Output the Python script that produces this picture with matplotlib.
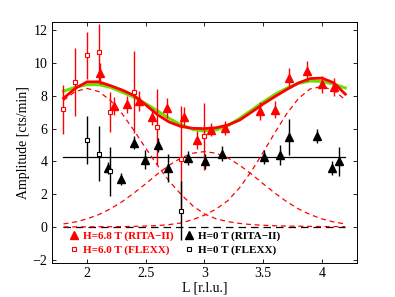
import matplotlib
matplotlib.use("Agg")
import matplotlib.pyplot as plt
from matplotlib.lines import Line2D

# ---------------- data ----------------
L_grid = [1.8, 1.9, 2.0, 2.1, 2.2, 2.3, 2.4, 2.5, 2.6, 2.7, 2.8, 2.9, 3.0,
          3.1, 3.2, 3.3, 3.4, 3.5, 3.6, 3.7, 3.8, 3.9, 4.0, 4.1, 4.2]
fit_red = [7.85, 8.45, 8.85, 8.85, 8.62, 8.35, 8.02, 7.45, 6.85, 6.40, 6.13, 6.02, 6.00,
           6.05, 6.22, 6.52, 7.00, 7.50, 7.95, 8.38, 8.78, 9.05, 9.08, 8.80, 8.10]
fit_green = [8.28, 8.52, 8.68, 8.68, 8.52, 8.22, 7.92, 7.52, 7.08, 6.62, 6.24, 5.96, 5.85,
             5.92, 6.18, 6.62, 7.12, 7.62, 8.08, 8.46, 8.76, 8.90, 8.88, 8.72, 8.48]
peak_L2 = [7.72, 8.26, 8.45, 8.26, 7.72, 6.90, 5.89, 4.81, 3.76, 2.80, 2.00, 1.30, 0.80,
           0.50, 0.33, 0.22, 0.15, 0.11, 0.08, 0.06, 0.05, 0.04, 0.03, 0.03, 0.02]
peak_L3 = [0.19, 0.31, 0.50, 0.76, 1.11, 1.55, 2.07, 2.64, 3.23, 3.77, 4.21, 4.50, 4.60,
           4.50, 4.21, 3.77, 3.23, 2.64, 2.07, 1.55, 1.11, 0.76, 0.50, 0.31, 0.19]
peak_L4 = [0.01, 0.01, 0.01, 0.02, 0.02, 0.03, 0.04, 0.06, 0.09, 0.15, 0.25, 0.45, 0.72,
           1.10, 1.61, 2.40, 3.40, 4.55, 5.75, 6.90, 7.83, 8.42, 8.56, 8.35, 7.75]
background_level = 4.25
line_L = [1.8, 4.2]

# H=6.8 T (RITA-II)
rita68_L = [2.114, 2.233, 2.34, 2.44, 2.553, 2.68, 2.822, 2.936, 3.055, 3.177,
            3.476, 3.60, 3.724, 3.87, 4.005, 4.107]
rita68_A = [9.36, 7.36, 7.47, 7.67, 6.71, 7.26, 6.72, 5.33, 5.94, 6.04,
            7.06, 7.16, 9.10, 9.50, 8.69, 8.55]
rita68_E = [0.65, 0.55, 0.5, 0.6, 0.5, 0.6, 0.6, 0.55, 0.4, 0.4,
            0.55, 0.5, 0.6, 0.6, 0.5, 0.55]

# H=6.0 T (FLEXX)
flexx6_L = [1.796, 1.894, 1.997, 2.099, 2.198, 2.397, 2.60, 2.797, 2.993]
flexx6_A = [7.18, 8.84, 10.46, 10.66, 7.02, 8.22, 6.10, 4.17, 5.53]
flexx6_E = [1.5, 2.08, 1.42, 1.73, 1.22, 2.5, 2.3, 3.2, 2.05]

# H=0 T (RITA-II)
rita0_L = [2.175, 2.29, 2.397, 2.496, 2.604, 2.686, 2.856, 3.007, 3.149,
           3.51, 3.645, 3.72, 3.957, 4.085, 4.147]
rita0_A = [3.60, 2.93, 5.15, 4.11, 5.0, 3.60, 4.21, 4.0, 4.47,
           4.27, 4.41, 5.49, 5.55, 3.60, 4.0]
rita0_E = [0.35, 0.35, 0.4, 0.6, 0.4, 0.86, 0.4, 0.45, 0.45,
           0.45, 0.6, 1.1, 0.45, 0.45, 0.87]

# H=0 T (FLEXX)
flexx0_L = [1.998, 2.099, 2.198, 2.797]
flexx0_A = [5.30, 4.48, 3.40, 1.0]
flexx0_E = [1.48, 1.68, 1.5, 1.78]

labels = ["H=6.8 T (RITA\u2212II)", "H=6.0 T (FLEXX)",
          "H=0 T (RITA\u2212II)", "H=0 T (FLEXX)"]

# ---------------- figure ----------------
serif = ["Liberation Serif", "DejaVu Serif"]
plt.rcParams["font.family"] = serif
plt.rcParams["mathtext.fontset"] = "stix"

fig = plt.figure(figsize=(3.95, 2.97), dpi=100)
ax = fig.add_axes([0.131, 0.114, 0.773, 0.812])

RED = "#ff0000"
GREEN = "#6ee000"

ax.plot(line_L, [0, 0], color="black", lw=0.9, ls=(0, (6, 4)), zorder=1)
ax.plot(line_L, [background_level] * 2, color="black", lw=0.9, zorder=2)
for p in (peak_L2, peak_L3, peak_L4):
    ax.plot(L_grid, p, color=RED, lw=0.9, ls=(0, (4, 3)), zorder=2)
ax.plot(L_grid, fit_green, color=GREEN, lw=2.2, zorder=3)
ax.plot(L_grid, fit_red, color=RED, lw=2.0, zorder=4)

ax.errorbar(rita68_L, rita68_A, yerr=rita68_E, fmt="^", color=RED, ms=6,
            elinewidth=1.0, capsize=0, zorder=5)
ax.errorbar(flexx6_L, flexx6_A, yerr=flexx6_E, fmt="s", color=RED, mfc="white",
            mec=RED, ms=3.5, mew=0.8, elinewidth=1.0, capsize=0, zorder=5)
ax.errorbar(rita0_L, rita0_A, yerr=rita0_E, fmt="^", color="black", ms=6,
            elinewidth=1.0, capsize=0, zorder=6)
ax.errorbar(flexx0_L, flexx0_A, yerr=flexx0_E, fmt="s", color="black", mfc="white",
            mec="black", ms=3.5, mew=0.8, elinewidth=1.0, capsize=0, zorder=6)

ax.set_xlim(1.7, 4.3)
ax.set_ylim(-2.2, 12.5)
ax.set_xticks([2, 2.5, 3, 3.5, 4])
ax.set_xticklabels(["2", "2.5", "3", "3.5", "4"])
ax.set_yticks([-2, 0, 2, 4, 6, 8, 10, 12])
ax.set_yticklabels(["\u22122", "0", "2", "4", "6", "8", "10", "12"])
ax.tick_params(direction="in", top=True, right=True, length=3, width=0.6,
               labelsize=10, pad=3)
for s in ax.spines.values():
    s.set_linewidth(0.7)
ax.set_xlabel("L [r.l.u.]", fontsize=10, labelpad=1)
ax.set_ylabel("Amplitude [cts/min]", fontsize=10, labelpad=2)

handles = [
    Line2D([], [], ls="none", marker="^", color=RED, ms=6),
    Line2D([], [], ls="none", marker="s", mfc="white", mec=RED, ms=3.5, mew=0.8),
    Line2D([], [], ls="none", marker="^", color="black", ms=6),
    Line2D([], [], ls="none", marker="s", mfc="white", mec="black", ms=3.5, mew=0.8),
]
leg = ax.legend(handles, labels, ncol=2, loc="lower left",
                bbox_to_anchor=(0.03, 0.0), frameon=False,
                prop={"family": serif, "weight": "bold", "size": 8},
                handlelength=1.0, handletextpad=0.3, columnspacing=0.9,
                labelspacing=0.35, borderaxespad=0.3)
for t, c in zip(leg.get_texts(), [RED, RED, "black", "black"]):
    t.set_color(c)

fig.savefig("out.png", dpi=100)
